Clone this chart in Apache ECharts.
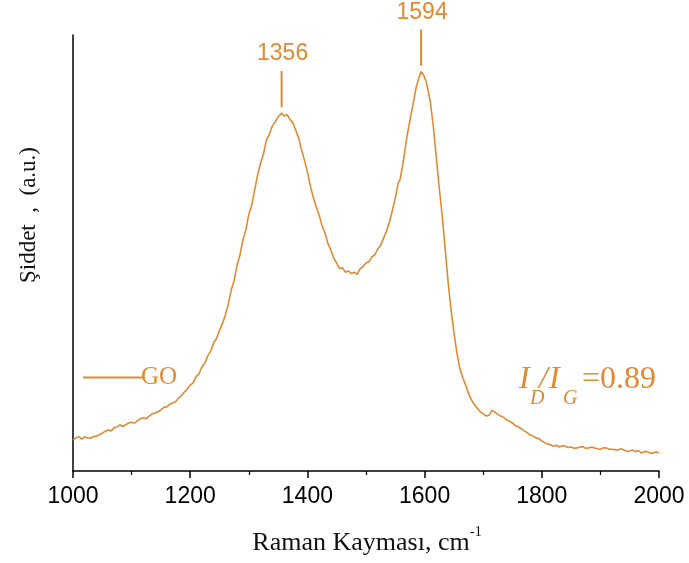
<!DOCTYPE html>
<html>
<head>
<meta charset="utf-8">
<script src="https://cdn.jsdelivr.net/npm/echarts@6/dist/echarts.min.js"></script>
<style>
html,body{margin:0;padding:0;background:#fff;}
#chart{width:689px;height:563px;}
</style>
</head>
<body>
<div id="chart"></div>
<script>
// Raman shift (cm^-1)
var ramanShift = [1000,1005,1010,1015,1020,1025,1030,1035,1040,1045,1050,1055,1060,1065,1070,1075,1080,1085,1090,1095,
  1100,1105,1110,1115,1120,1125,1130,1135,1140,1145,1150,1155,1160,1165,1170,1175,1180,1185,1190,1195,
  1200,1205,1210,1215,1220,1225,1230,1235,1240,1245,1250,1255,1260,1265,1270,1275,1280,1285,1290,1295,
  1300,1305,1310,1315,1320,1325,1330,1335,1340,1345,1350,1353,1356,1360,1365,1370,1375,1380,1385,1390,1395,
  1400,1405,1410,1415,1420,1425,1430,1435,1440,1445,1450,1455,1460,1465,1470,1475,1480,1485,1490,1495,
  1500,1505,1510,1515,1520,1525,1530,1535,1540,1545,1550,1555,1558,1562,1566,1570,1575,1580,1585,1590,1594,1598,
  1602,1606,1610,1615,1620,1625,1630,1635,1640,1645,1650,1655,1660,1665,1670,1675,1680,1685,1690,1695,
  1700,1705,1710,1715,1720,1725,1730,1735,1740,1745,1750,1755,1760,1765,1770,1775,1780,1785,1790,1795,
  1800,1805,1810,1815,1820,1825,1830,1835,1840,1845,1850,1855,1860,1865,1870,1875,1880,1885,1890,1895,
  1900,1905,1910,1915,1920,1925,1930,1935,1940,1945,1950,1955,1960,1965,1970,1975,1980,1985,1990,1995,2000];
// GO intensity (a.u.)
var goIntensity = [7.1,7.6,7.9,7.3,7.8,7.6,7.5,7.9,8.0,8.3,8.7,9.1,9.4,9.2,9.9,10.1,10.6,10.2,10.6,11.0,
  11.2,11.0,11.5,12.0,12.2,12.0,12.6,13.1,13.3,13.6,14.0,14.6,14.7,15.3,15.6,15.9,16.7,17.3,18.1,18.8,
  19.7,20.2,21.6,22.3,23.9,24.7,26.4,27.5,29.4,30.4,32.3,33.8,35.8,38.3,41.5,43.7,47.2,49.6,53.0,55.3,
  58.9,61.0,64.4,67.9,70.6,72.7,75.9,77.2,79.1,80.0,81.2,81.6,82.1,81.4,81.8,80.7,79.9,78.2,76.4,73.6,71.3,
  68.6,65.4,62.8,60.6,58.7,56.3,54.6,52.2,50.7,48.8,47.7,46.4,46.6,45.6,45.9,45.3,45.6,45.1,46.4,46.9,
  47.7,48.0,49.1,49.6,50.9,51.8,53.4,55.0,57.1,59.8,62.6,66.1,66.8,69.7,73.1,76.8,80.4,83.9,87.6,90.1,91.6,90.9,
  89.6,87.3,84.4,78.9,71.8,64.9,58.7,51.1,43.5,37.2,31.8,27.2,23.6,21.4,19.7,17.8,16.3,15.2,14.4,13.6,
  13.1,12.6,12.8,13.9,13.5,13.0,12.6,12.3,11.7,11.4,11.0,10.4,10.1,9.7,9.2,8.8,8.3,8.0,7.6,7.4,
  6.9,6.5,6.2,6.0,5.7,5.9,5.5,5.8,5.7,5.4,5.5,5.2,5.3,5.5,5.6,5.2,5.3,5.5,5.3,5.1,
  5.0,5.3,5.3,5.0,5.0,4.9,4.8,5.1,4.8,4.5,4.6,4.8,4.4,4.7,4.1,4.5,4.4,4.1,4.1,4.4,4.1];
var xTicks = [1000,1200,1400,1600,1800,2000];
var peakPositions = [1356, 1594];
var peakLabels = ['1356', '1594'];
var seriesName = 'GO';
var ratioValue = '0.89';

var ORANGE = '#E08A33';
var chart = echarts.init(document.getElementById('chart'), null, {renderer:'canvas'});
var data = ramanShift.map(function(x,i){return [x, goIntensity[i]];});

chart.setOption({
  animation:false,
  backgroundColor:'#fff',
  grid:{left:73,right:30,top:35,bottom:92},
  legend:{
    left:78, top:360, itemWidth:60, itemHeight:14, itemGap:0,
    textStyle:{fontFamily:'Liberation Serif', fontSize:25, color:ORANGE, padding:[0,0,0,-7]},
    data:[{name:seriesName, icon:'path://M0,0L100,0L100,3L0,3Z'}]
  },
  xAxis:{
    type:'value', min:1000, max:2000, interval:200,
    axisLine:{show:true, onZero:false, lineStyle:{color:'#000', width:1.5}},
    axisTick:{show:true, inside:false, length:7, lineStyle:{color:'#000', width:1.5}},
    minorTick:{show:true, splitNumber:2, length:4, lineStyle:{color:'#000', width:1.2}},
    axisLabel:{margin:14, fontFamily:'Liberation Sans', fontSize:23, color:'#000',
      formatter:function(v){return xTicks.indexOf(v)>=0 ? String(v) : '';}},
    splitLine:{show:false}
  },
  yAxis:{
    type:'value', min:0, max:100,
    axisLine:{show:true, lineStyle:{color:'#000', width:1.5}},
    axisTick:{show:false}, axisLabel:{show:false}, splitLine:{show:false}
  },
  series:[{
    name:seriesName, type:'line', data:data, showSymbol:false, symbol:'none',
    lineStyle:{color:ORANGE, width:1.6}, itemStyle:{color:ORANGE}
  }]
});

// peak annotations positioned through the chart's scales
var graphics = [];
peakPositions.forEach(function(px, i){
  var idx = ramanShift.indexOf(px);
  var yv = idx >= 0 ? goIntensity[idx] : 0;
  var base = chart.convertToPixel({gridIndex:0}, [px, yv]);
  var x = base[0], top = base[1];
  graphics.push({type:'line', shape:{x1:x, y1:top-6, x2:x, y2:top-42}, style:{stroke:ORANGE, lineWidth:2}, silent:true});
  graphics.push({type:'text', x:x+1, y:top-59, style:{text:peakLabels[i], fill:ORANGE, font:'23px "Liberation Sans"', align:'center', verticalAlign:'middle'}, silent:true});
});
// ratio text
var it = 'italic 32px "Liberation Serif"', its = 'italic 20px "Liberation Serif"';
graphics.push({type:'text', x:519, y:380, style:{text:'I', font:it, fill:ORANGE, align:'left', verticalAlign:'middle'}});
graphics.push({type:'text', x:530, y:399, style:{text:'D', font:its, fill:ORANGE, align:'left', verticalAlign:'middle'}});
graphics.push({type:'text', x:539, y:380, style:{text:'/', font:it, fill:ORANGE, align:'left', verticalAlign:'middle'}});
graphics.push({type:'text', x:549, y:380, style:{text:'I', font:it, fill:ORANGE, align:'left', verticalAlign:'middle'}});
graphics.push({type:'text', x:563, y:399, style:{text:'G', font:its, fill:ORANGE, align:'left', verticalAlign:'middle'}});
graphics.push({type:'text', x:582, y:380, style:{text:'=' + ratioValue, font:'32px "Liberation Serif"', fill:ORANGE, align:'left', verticalAlign:'middle'}});
// axis names
graphics.push({type:'text', x:361, y:543, style:{text:'Raman Kayması, cm', font:'26px "Liberation Serif"', fill:'#111', align:'center', verticalAlign:'middle'}});
graphics.push({type:'text', x:470, y:532, style:{text:'-1', font:'14px "Liberation Serif"', fill:'#111', align:'left', verticalAlign:'middle'}});
graphics.push({type:'text', x:29, y:215, rotation:Math.PI/2, style:{text:'Şiddet  ,  (a.u.)', font:'23px "Liberation Serif"', fill:'#111', align:'center', verticalAlign:'middle'}});
chart.setOption({graphic:graphics});
</script>
</body>
</html>
